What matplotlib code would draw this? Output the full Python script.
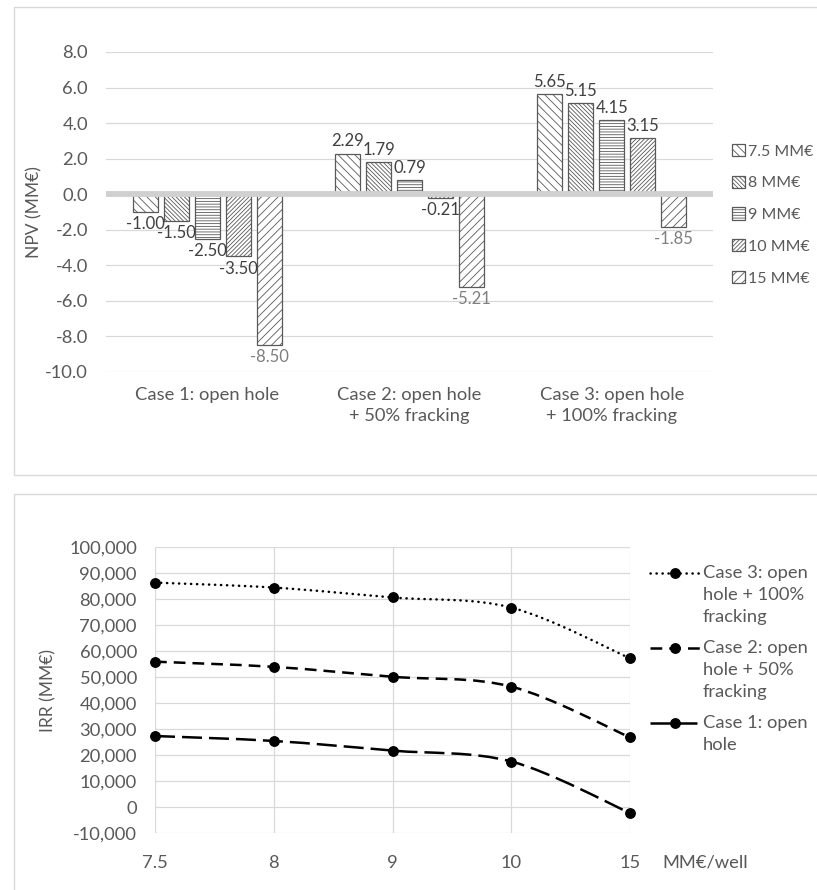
#!/usr/bin/env python3
"""NPV bars per drilling cost and IRR curves for the three completion cases."""

import matplotlib

matplotlib.use("Agg")
import matplotlib.pyplot as plt
import numpy as np
from matplotlib.lines import Line2D
from matplotlib.patches import Patch, PathPatch, Rectangle
from matplotlib.path import Path
from matplotlib.ticker import FuncFormatter

plt.rcParams["font.family"] = ["Lato", "DejaVu Sans"]
plt.rcParams["hatch.linewidth"] = 0.6

# --- data ---------------------------------------------------------------
cases = ["Case 1: open hole", "Case 2: open hole\n+ 50% fracking", "Case 3: open hole\n+ 100% fracking"]
cost_labels = ["7.5 MM€", "8 MM€", "9 MM€", "10 MM€", "15 MM€"]
npv_75 = [-1.00, 2.29, 5.65]
npv_8 = [-1.50, 1.79, 5.15]
npv_9 = [-2.50, 0.79, 4.15]
npv_10 = [-3.50, -0.21, 3.15]
npv_15 = [-8.50, -5.21, -1.85]
npv_series = [npv_75, npv_8, npv_9, npv_10, npv_15]

well_costs = ["7.5", "8", "9", "10", "15"]
irr_case1 = [27300, 25400, 21700, 17500, -2300]
irr_case2 = [55900, 53900, 50100, 46300, 26800]
irr_case3 = [86300, 84400, 80600, 76700, 57200]
irr_labels = ["Case 1: open\nhole", "Case 2: open\nhole + 50%\nfracking", "Case 3: open\nhole + 100%\nfracking"]

HATCHES = ["\\\\\\\\", "\\\\\\\\\\\\\\\\", "------", "////////", "////"]
EDGE = "#595959"
TXT = "#595959"
GRID = "#d9d9d9"
FS = 13.2


def smooth_path(x, y) -> Path:
    # Excel-style smoothed line: cubic Bezier with Catmull-Rom tangents / 6
    pts = np.column_stack([x, y]).astype(float)
    ext = np.vstack([pts[0], pts, pts[-1]])
    verts = [pts[0]]
    codes = [Path.MOVETO]
    for i in range(len(pts) - 1):
        p0, p1, p2, p3 = ext[i], ext[i + 1], ext[i + 2], ext[i + 3]
        verts += [p1 + (p2 - p0) / 6.0, p2 - (p3 - p1) / 6.0, p2]
        codes += [Path.CURVE4] * 3
    return Path(verts, codes)


fig = plt.figure(figsize=(8.17, 8.90), dpi=100)
W, H = 817.0, 890.0

# panel borders
fig.add_artist(Rectangle((14 / W, 1 - 475 / H), 1.0, 468 / H, transform=fig.transFigure,
                         fill=False, edgecolor=GRID, linewidth=1.0))
fig.add_artist(Rectangle((14 / W, -0.05), 1.0, 1 - 494 / H + 0.05, transform=fig.transFigure,
                         fill=False, edgecolor=GRID, linewidth=1.0))

# --- top: NPV bars -------------------------------------------------------
ax = fig.add_axes([106 / W, 1 - 372 / H, 607 / W, 320 / H])
x = np.arange(len(cases))
width, step = 0.124, 0.153
for i, (vals, hatch, lab) in enumerate(zip(npv_series, HATCHES, cost_labels)):
    xs = x + (i - 2) * step
    ax.bar(xs, vals, width=width, facecolor="white", edgecolor=EDGE, hatch=hatch,
           linewidth=0.9, label=lab, zorder=2)
    col = "#7f7f7f" if i == 4 else "#404040"
    for xv, v in zip(xs, vals):
        ax.annotate(f"{v:.2f}", xy=(xv, v), xytext=(0, 3 if v > 0 else -3), textcoords="offset points",
                    ha="center", va="bottom" if v > 0 else "top", fontsize=12, color=col)

ax.axhline(0, color="#d0d0d0", linewidth=4.2, zorder=3)
ax.set_ylim(-10, 8)
ax.set_xlim(-0.5, 2.5)
ax.set_yticks(np.arange(-10, 8.1, 2))
ax.yaxis.set_major_formatter(FuncFormatter(lambda v, _: f"{v:.1f}"))
ax.set_xticks(x)
ax.set_xticklabels(cases, fontsize=FS, color=TXT, linespacing=1.35)
ax.tick_params(axis="y", length=0, pad=13, labelsize=FS, labelcolor=TXT)
ax.tick_params(axis="x", length=0, pad=11)
ax.grid(axis="y", color=GRID, linewidth=0.9, zorder=0)
ax.set_axisbelow(True)
for s in ax.spines.values():
    s.set_visible(False)
ax.set_ylabel("NPV (MM€)", fontsize=12.5, color=TXT, labelpad=2)

handles = [Patch(facecolor="white", edgecolor=EDGE, hatch=h, linewidth=0.9) for h in HATCHES]
ax.legend(handles, cost_labels, loc="upper left", bbox_to_anchor=(724 / W, 1 - 136 / H),
          bbox_transform=fig.transFigure, frameon=False, fontsize=11.5, handlelength=0.8,
          handleheight=0.8, handletextpad=0.2, labelspacing=1.07, borderpad=0, labelcolor=TXT)

# --- bottom: IRR lines ---------------------------------------------------
bx = fig.add_axes([155 / W, 1 - 833 / H, 475 / W, 286 / H])
xi = np.arange(len(well_costs))
styles = [
    (irr_case1, (0, (8.0, 2.8)), "butt"),
    (irr_case2, (0, (4.7, 2.8)), "butt"),
    (irr_case3, (0, (0.1, 2.3)), "round"),
]
for vals, dash, cap in styles:
    patch = PathPatch(smooth_path(xi, vals), fill=False, edgecolor="black", linewidth=1.8,
                      linestyle=dash, capstyle=cap, zorder=3)
    bx.add_patch(patch)
    bx.plot(xi, vals, "o", color="black", markersize=6.8, zorder=4, clip_on=False)

bx.set_xlim(0, 4)
bx.set_ylim(-10000, 100000)
bx.set_yticks(np.arange(-10000, 100001, 10000))
bx.yaxis.set_major_formatter(FuncFormatter(lambda v, _: f"{v:,.0f}"))
bx.set_xticks(xi)
bx.set_xticklabels(well_costs)
bx.tick_params(axis="both", length=0, labelsize=FS, labelcolor=TXT)
bx.tick_params(axis="y", pad=13)
bx.tick_params(axis="x", pad=16)
bx.grid(True, color=GRID, linewidth=0.9, zorder=0)
for s in bx.spines.values():
    s.set_visible(False)
bx.set_ylabel("IRR (MM€)", fontsize=12.5, color=TXT, labelpad=9)
fig.text(662 / W, 1 - 862 / H, "MM€/well", fontsize=FS, color=TXT, va="center", ha="left")

# legend drawn by hand so the sample sits on the first text line
leg_rows = [(irr_labels[2], styles[2]), (irr_labels[1], styles[1]), (irr_labels[0], styles[0])]
row_y = [573, 648, 723]
for (lab, (_, dash, cap)), yy in zip(leg_rows, row_y):
    yf = 1 - yy / H
    fig.add_artist(Line2D([650 / W, 700 / W], [yf, yf], transform=fig.transFigure, color="black",
                          linewidth=1.8, linestyle=dash, dash_capstyle=cap))
    fig.add_artist(Line2D([675 / W], [yf], transform=fig.transFigure, color="black",
                          marker="o", markersize=6.8, linestyle="none"))
    fig.text(703 / W, 1 - (yy - 8) / H, lab, fontsize=FS, color=TXT, va="top", ha="left",
             linespacing=1.45)

fig.savefig("out.png", dpi=100)
